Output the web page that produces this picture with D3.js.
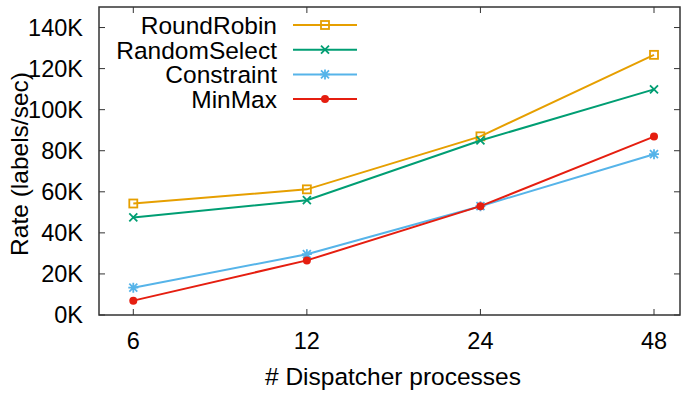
<html>
<head>
  <meta charset="utf-8">
  <script src="https://cdn.jsdelivr.net/npm/d3@7"></script>
  <style>
    body { margin: 0; background: #fff; }
    text { font-family: "Liberation Sans", Arial, sans-serif; fill: #000; }
  </style>
</head>
<body>
<svg id="chart" width="681" height="395"></svg>
<script>
  // values (K labels/sec)
  var procs = ["6", "12", "24", "48"];
  var roundRobin   = [54.3, 61.2, 87.0, 126.7];
  var randomSelect = [47.5, 55.9, 85.0, 109.9];
  var constraint   = [13.3, 29.6, 53.0, 78.3];
  var minMax       = [7.0, 26.6, 53.0, 86.9];
  var yTicks = [0, 20, 40, 60, 80, 100, 120, 140];

  var series = [
    { name: "RoundRobin",   values: roundRobin,   color: "#e69f00", mark: "square" },
    { name: "RandomSelect", values: randomSelect, color: "#009e73", mark: "cross" },
    { name: "Constraint",   values: constraint,   color: "#56b4e9", mark: "star" },
    { name: "MinMax",       values: minMax,       color: "#e51e10", mark: "dot" }
  ];

  (function() {
  var pl = 99, pr = 680, pt = 7, pb = 315;
  var svg = d3.select("#chart");

  var x = d3.scalePoint().domain(procs).range([133.3, 654]);
  var y = d3.scaleLinear().domain([0, 150]).range([pb, pt]);

  // tick marks (inward, mirrored like gnuplot)
  var tk = svg.append("g").attr("stroke", "#333").attr("stroke-width", 1);
  yTicks.forEach(function(v) {
    tk.append("line").attr("x1", pl).attr("x2", pl + 6).attr("y1", y(v)).attr("y2", y(v));
    tk.append("line").attr("x1", pr).attr("x2", pr - 6).attr("y1", y(v)).attr("y2", y(v));
  });
  procs.forEach(function(p) {
    tk.append("line").attr("x1", x(p)).attr("x2", x(p)).attr("y1", pb).attr("y2", pb - 6);
    tk.append("line").attr("x1", x(p)).attr("x2", x(p)).attr("y1", pt).attr("y2", pt + 6);
  });

  // frame
  svg.append("rect")
    .attr("x", pl).attr("y", pt)
    .attr("width", pr - pl).attr("height", pb - pt)
    .attr("fill", "none").attr("stroke", "#333").attr("stroke-width", 1.5);

  // tick labels
  svg.append("g").selectAll("text").data(yTicks).enter().append("text")
    .attr("x", 83).attr("y", function(d) { return y(d); })
    .attr("dy", "0.36em").attr("text-anchor", "end")
    .style("font-size", "23.5px")
    .text(function(d) { return d + "K"; });

  svg.append("g").selectAll("text").data(procs).enter().append("text")
    .attr("x", function(d) { return x(d); }).attr("y", 349)
    .attr("text-anchor", "middle")
    .style("font-size", "23.5px")
    .text(function(d) { return d; });

  svg.append("text")
    .attr("x", 393).attr("y", 385).attr("text-anchor", "middle")
    .style("font-size", "24.5px")
    .text("# Dispatcher processes");

  svg.append("text")
    .attr("transform", "translate(28,164) rotate(-90)")
    .attr("text-anchor", "middle")
    .style("font-size", "24.5px")
    .text("Rate (labels/sec)");

  function drawMark(g, kind, cx, cy, color) {
    if (kind === "square") {
      g.append("rect").attr("x", cx - 4).attr("y", cy - 4).attr("width", 8).attr("height", 8)
        .attr("fill", "none").attr("stroke", color).attr("stroke-width", 1.8);
    } else if (kind === "cross") {
      g.append("path").attr("d", "M" + (cx - 4) + "," + (cy - 4) + "L" + (cx + 4) + "," + (cy + 4) +
        "M" + (cx - 4) + "," + (cy + 4) + "L" + (cx + 4) + "," + (cy - 4))
        .attr("stroke", color).attr("stroke-width", 1.8);
    } else if (kind === "star") {
      g.append("path").attr("d", "M" + (cx - 4) + "," + (cy - 4) + "L" + (cx + 4) + "," + (cy + 4) +
        "M" + (cx - 4) + "," + (cy + 4) + "L" + (cx + 4) + "," + (cy - 4) +
        "M" + (cx - 5) + "," + cy + "L" + (cx + 5) + "," + cy +
        "M" + cx + "," + (cy - 5) + "L" + cx + "," + (cy + 5))
        .attr("stroke", color).attr("stroke-width", 1.8);
    } else {
      g.append("circle").attr("cx", cx).attr("cy", cy).attr("r", 4).attr("fill", color);
    }
  }

  var line = d3.line()
    .x(function(d, i) { return x(procs[i]); })
    .y(function(d) { return y(d); });

  series.forEach(function(s) {
    var g = svg.append("g");
    g.append("path").attr("d", line(s.values))
      .attr("fill", "none").attr("stroke", s.color).attr("stroke-width", 2);
    s.values.forEach(function(v, i) { drawMark(g, s.mark, x(procs[i]), y(v), s.color); });
  });

  // legend
  series.forEach(function(s, i) {
    var ly = 25 + i * 24.7;
    var g = svg.append("g");
    g.append("text").attr("x", 277).attr("y", ly).attr("dy", "0.36em")
      .attr("text-anchor", "end").style("font-size", "24.5px").text(s.name);
    g.append("line").attr("x1", 293).attr("x2", 357).attr("y1", ly).attr("y2", ly)
      .attr("stroke", s.color).attr("stroke-width", 2);
    drawMark(g, s.mark, 325, ly, s.color);
  });
  })();
</script>
</body>
</html>
